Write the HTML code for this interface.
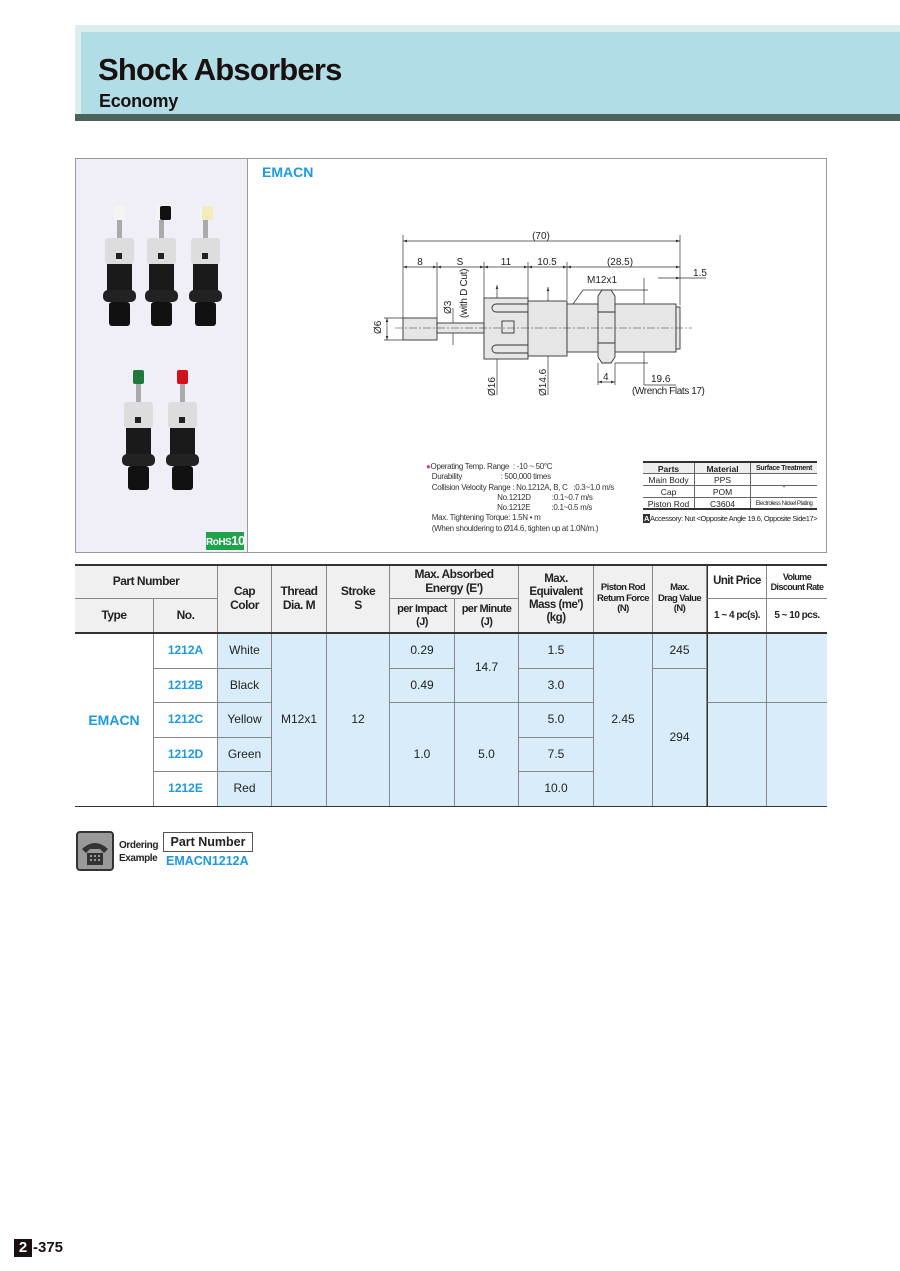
<!DOCTYPE html>
<html><head><meta charset="utf-8"><style>
*{margin:0;padding:0;box-sizing:border-box}
body{width:900px;height:1271px;background:#fff;position:relative;font-family:"Liberation Sans",Arial,sans-serif;color:#222;overflow:hidden}
.a{position:absolute}
.c{position:absolute;display:flex;align-items:center;justify-content:center;text-align:center;font-size:12px;border-right:1px solid #888;border-bottom:1px solid #888;line-height:1.15;white-space:nowrap}
.h{background:#f0f0f0;font-weight:bold;font-size:12px;letter-spacing:-0.5px}
.b{background:#d8edf9}
.w{background:#fff}
.blue{color:#1a9be0;font-weight:bold}
</style></head><body>
<!-- header -->
<div class="a" style="left:75px;top:25px;width:825px;height:96px;background:#dcefef"></div>
<div class="a" style="left:81px;top:32px;width:819px;height:82px;background:#b0dde6"></div>
<div class="a" style="left:75px;top:114px;width:825px;height:7px;background:#4b6358"></div>
<div class="a" style="left:98px;top:52px;font-size:31px;font-weight:bold;color:#1a1010;letter-spacing:-0.8px">Shock Absorbers</div>
<div class="a" style="left:99px;top:91px;font-size:18px;font-weight:bold;color:#1a1010;letter-spacing:-0.3px">Economy</div>

<!-- main panel -->
<div class="a" style="left:75px;top:158px;width:752px;height:395px;border:1px solid #999"></div>
<div class="a" style="left:76px;top:159px;width:172px;height:393px;background:#f0eff7;border-right:1px solid #999"></div>
<div class="a" style="left:206px;top:532px;width:38px;height:18px;background:#1fa34a;color:#fff;font-weight:bold;font-size:10px;text-align:center;line-height:18px;letter-spacing:-0.5px;white-space:nowrap;overflow:hidden">RoHS<span style="font-size:13px">10</span></div>
<svg class="a" style="left:76px;top:159px" width="172" height="393">
 <g id="s">
  <rect x="38" y="47" width="11" height="14" rx="2" fill="#f4f4f0"/>
  <rect x="41" y="61" width="5" height="20" fill="#aaa"/>
  <rect x="29" y="79" width="29" height="26" rx="3" fill="#ddd"/>
  <rect x="40" y="94" width="6" height="6" fill="#222"/>
  <rect x="31" y="105" width="25" height="28" fill="#1a1a1a"/>
  <rect x="27" y="131" width="33" height="12" rx="5" fill="#222"/>
  <rect x="33" y="143" width="21" height="24" rx="3" fill="#111"/>
 </g>
 <use href="#s" x="42"/>
 <use href="#s" x="86"/>
 <use href="#s" x="19" y="164"/>
 <use href="#s" x="63" y="164"/>
 <rect x="84" y="47" width="11" height="14" rx="2" fill="#111"/>
 <rect x="126" y="47" width="11" height="14" rx="2" fill="#f2ecba"/>
 <rect x="57" y="211" width="11" height="14" rx="2" fill="#1e7a3a"/>
 <rect x="101" y="211" width="11" height="14" rx="2" fill="#d0101a"/>
</svg>
<div class="a blue" style="left:262px;top:164px;font-size:14px">EMACN</div>

<!-- drawing -->
<svg class="a" style="left:0;top:0" width="900" height="560" font-family="Liberation Sans,Arial,sans-serif" font-size="10" fill="#222">
 <defs><marker id="ar" markerWidth="6" markerHeight="6" refX="6" refY="3" orient="auto-start-reverse"><path d="M0,1L6,3L0,5z" fill="#333"/></marker></defs>
 <g stroke="#333" stroke-width="0.7" fill="none">
  <line x1="403" y1="235" x2="403" y2="318"/><line x1="680" y1="235" x2="680" y2="305"/>
  <line x1="437" y1="262" x2="437" y2="318"/><line x1="484" y1="262" x2="484" y2="298"/>
  <line x1="528" y1="262" x2="528" y2="298"/><line x1="567" y1="262" x2="567" y2="300"/>
  <line x1="403" y1="241" x2="680" y2="241" marker-start="url(#ar)" marker-end="url(#ar)"/>
  <line x1="403" y1="267" x2="437" y2="267" marker-start="url(#ar)" marker-end="url(#ar)"/>
  <line x1="437" y1="267" x2="484" y2="267" marker-start="url(#ar)" marker-end="url(#ar)"/>
  <line x1="484" y1="267" x2="528" y2="267" marker-start="url(#ar)" marker-end="url(#ar)"/>
  <line x1="528" y1="267" x2="567" y2="267" marker-start="url(#ar)" marker-end="url(#ar)"/>
  <line x1="567" y1="267" x2="680" y2="267" marker-start="url(#ar)" marker-end="url(#ar)"/>
  <line x1="658" y1="278" x2="680" y2="278" marker-end="url(#ar)"/><line x1="680" y1="278" x2="706" y2="278"/>
  <line x1="384" y1="318" x2="403" y2="318"/><line x1="384" y1="340" x2="403" y2="340"/>
  <line x1="387" y1="318" x2="387" y2="340" marker-start="url(#ar)" marker-end="url(#ar)"/>
  <line x1="453" y1="308" x2="453" y2="345"/>
  <line x1="497" y1="285" x2="497" y2="395" marker-start="url(#ar)"/>
  <line x1="548" y1="287" x2="548" y2="395" marker-start="url(#ar)"/>
  <line x1="598" y1="363" x2="598" y2="385"/><line x1="615" y1="363" x2="615" y2="385"/>
  <line x1="598" y1="382" x2="615" y2="382" marker-start="url(#ar)" marker-end="url(#ar)"/>
  <line x1="644" y1="278" x2="644" y2="385"/><line x1="615" y1="290" x2="648" y2="290"/><line x1="615" y1="363" x2="648" y2="363"/>
  <line x1="644" y1="385" x2="676" y2="385"/>
  <line x1="583" y1="290" x2="573" y2="304"/><line x1="583" y1="290" x2="615" y2="290"/>
 </g>
 <g stroke="#333" stroke-width="0.9" fill="#e6e6e6">
  <rect x="403" y="318" width="34" height="22"/>
  <rect x="437" y="323" width="47" height="10"/>
  <rect x="484" y="298" width="44" height="61"/>
  <rect x="528" y="301" width="39" height="55"/>
  <rect x="567" y="304" width="109" height="48"/>
  <rect x="676" y="307" width="4" height="42"/>
  <path d="M598,296 L602,290 L611,290 L615,296 L615,357 L611,363 L602,363 L598,357Z"/>
  <line x1="598" y1="312" x2="615" y2="312"/><line x1="598" y1="343" x2="615" y2="343"/>
  <rect x="502" y="321" width="12" height="12" fill="none"/>
  <path d="M528,304 H496 a3,3 0 0 0 0,8 H528" fill="none"/>
  <path d="M528,345 H496 a3,3 0 0 0 0,8 H528" fill="none"/>
 </g>
 <line x1="395" y1="328" x2="692" y2="328" stroke="#333" stroke-width="0.6" stroke-dasharray="8,2,2,2"/>
 <text x="541" y="239" text-anchor="middle">(70)</text>
 <text x="420" y="265" text-anchor="middle">8</text>
 <text x="460" y="265" text-anchor="middle">S</text>
 <text x="506" y="265" text-anchor="middle">11</text>
 <text x="547" y="265" text-anchor="middle">10.5</text>
 <text x="620" y="265" text-anchor="middle">(28.5)</text>
 <text x="700" y="276" text-anchor="middle">1.5</text>
 <text x="587" y="283">M12x1</text>
 <text x="603" y="380">4</text>
 <text x="651" y="382">19.6</text>
 <text x="632" y="394" letter-spacing="-0.4">(Wrench Flats 17)</text>
 <text transform="translate(381,334) rotate(-90)">Ø6</text>
 <text transform="translate(451,314) rotate(-90)">Ø3</text>
 <text transform="translate(467,318) rotate(-90)" letter-spacing="-0.3">(with D Cut)</text>
 <text transform="translate(495,396) rotate(-90)">Ø16</text>
 <text transform="translate(546,396) rotate(-90)">Ø14.6</text>
</svg>

<!-- notes -->
<div class="a" style="left:426px;top:462px;font-size:8px;line-height:10.3px;color:#333;white-space:pre;letter-spacing:-0.3px"><span style="color:#e0408a">●</span>Operating Temp. Range  : -10 ~ 50°C
   Durability                    : 500,000 times
   Collision Velocity Range : No.1212A, B, C   :0.3~1.0 m/s
                                     No.1212D           :0.1~0.7 m/s
                                     No.1212E           :0.1~0.5 m/s
   Max. Tightening Torque: 1.5N • m
   (When shouldering to Ø14.6, tighten up at 1.0N/m.)</div>
<div class="a" style="left:643px;top:461px;width:174px;font-size:8.5px;color:#222;white-space:nowrap">
 <div style="border-top:2px solid #333;display:flex;background:#eee;font-weight:bold;height:13px;line-height:12px;border-bottom:1px solid #666"><div style="width:52px;text-align:center;border-right:1px solid #666">Parts</div><div style="width:56px;text-align:center;border-right:1px solid #666">Material</div><div style="flex:1;text-align:center;font-size:7px;letter-spacing:-0.3px">Surface Treatment</div></div>
 <div style="display:flex;height:12px;line-height:12px;border-bottom:1px solid #666"><div style="width:52px;text-align:center;border-right:1px solid #666">Main Body</div><div style="width:56px;text-align:center;border-right:1px solid #666">PPS</div><div style="flex:1"></div></div>
 <div style="display:flex;height:12px;line-height:12px;border-bottom:1px solid #666"><div style="width:52px;text-align:center;border-right:1px solid #666">Cap</div><div style="width:56px;text-align:center;border-right:1px solid #666">POM</div><div style="flex:1;text-align:center;margin-top:-6px">-</div></div>
 <div style="display:flex;height:12px;line-height:12px;border-bottom:2px solid #333"><div style="width:52px;text-align:center;border-right:1px solid #666">Piston Rod</div><div style="width:56px;text-align:center;border-right:1px solid #666">C3604</div><div style="flex:1;text-align:center;font-size:6px;letter-spacing:-0.4px;overflow:hidden">Electroless Nickel Plating</div></div>
 <div style="font-size:7.5px;margin-top:4px;white-space:nowrap;letter-spacing:-0.4px"><b style="background:#333;color:#fff;padding:0 1px">A</b>Accessory: Nut &lt;Opposite Angle 19.6, Opposite Side17&gt;</div>
</div>

<!-- spec table -->
<div class="a" style="left:75px;top:564px;width:752px;height:243px;border-top:2px solid #333;border-bottom:2px solid #333"></div>
<div class="c h" style="left:75px;top:566px;width:143px;height:33px">Part Number</div>
<div class="c h" style="left:75px;top:599px;width:79px;height:34px">Type</div>
<div class="c h" style="left:154px;top:599px;width:64px;height:34px">No.</div>
<div class="c h" style="left:218px;top:566px;width:54px;height:67px">Cap<br>Color</div>
<div class="c h" style="left:272px;top:566px;width:55px;height:67px">Thread<br>Dia. M</div>
<div class="c h" style="left:327px;top:566px;width:63px;height:67px">Stroke<br>S</div>
<div class="c h" style="left:390px;top:566px;width:129px;height:33px">Max. Absorbed<br>Energy (E')</div>
<div class="c h" style="left:390px;top:599px;width:65px;height:34px;font-size:11px;letter-spacing:-0.6px">per Impact<br>(J)</div>
<div class="c h" style="left:455px;top:599px;width:64px;height:34px;font-size:11px;letter-spacing:-0.6px">per Minute<br>(J)</div>
<div class="c h" style="left:519px;top:566px;width:75px;height:67px;font-size:11.5px">Max.<br>Equivalent<br>Mass (me')<br>(kg)</div>
<div class="c h" style="left:594px;top:566px;width:59px;height:67px;font-size:9.5px;letter-spacing:-0.6px">Piston Rod<br>Return Force<br>(N)</div>
<div class="c h" style="left:653px;top:566px;width:54px;height:67px;font-size:9.5px;letter-spacing:-0.6px">Max.<br>Drag Value<br>(N)</div>
<div class="c h" style="left:707px;top:566px;width:60px;height:33px;background:#fff;border-left:1px solid #333;font-size:11.5px;letter-spacing:-0.6px">Unit Price</div>
<div class="c h" style="left:767px;top:566px;width:60px;height:33px;background:#fff;font-size:9px;border-right:none;letter-spacing:-0.6px">Volume<br>Discount Rate</div>
<div class="c h" style="left:707px;top:599px;width:60px;height:34px;background:#fff;font-size:10px;border-left:1px solid #333">1 ~ 4 pc(s).</div>
<div class="c h" style="left:767px;top:599px;width:60px;height:34px;background:#fff;font-size:10px;border-right:none">5 ~ 10 pcs.</div>
<div class="a" style="left:75px;top:632px;width:752px;height:2px;background:#333"></div>

<div class="c w blue" style="left:75px;top:634px;width:79px;height:172px;font-size:14px;border-bottom:none">EMACN</div>
<div class="c w blue" style="left:154px;top:634px;width:64px;height:35px">1212A</div>
<div class="c w blue" style="left:154px;top:669px;width:64px;height:34px">1212B</div>
<div class="c w blue" style="left:154px;top:703px;width:64px;height:35px">1212C</div>
<div class="c w blue" style="left:154px;top:738px;width:64px;height:34px">1212D</div>
<div class="c w blue" style="left:154px;top:772px;width:64px;height:34px;border-bottom:none">1212E</div>
<div class="c b" style="left:218px;top:634px;width:54px;height:35px">White</div>
<div class="c b" style="left:218px;top:669px;width:54px;height:34px">Black</div>
<div class="c b" style="left:218px;top:703px;width:54px;height:35px">Yellow</div>
<div class="c b" style="left:218px;top:738px;width:54px;height:34px">Green</div>
<div class="c b" style="left:218px;top:772px;width:54px;height:34px;border-bottom:none">Red</div>
<div class="c b" style="left:272px;top:634px;width:55px;height:172px;border-bottom:none">M12x1</div>
<div class="c b" style="left:327px;top:634px;width:63px;height:172px;border-bottom:none">12</div>
<div class="c b" style="left:390px;top:634px;width:65px;height:35px">0.29</div>
<div class="c b" style="left:390px;top:669px;width:65px;height:34px">0.49</div>
<div class="c b" style="left:390px;top:703px;width:65px;height:103px;border-bottom:none">1.0</div>
<div class="c b" style="left:455px;top:634px;width:64px;height:69px">14.7</div>
<div class="c b" style="left:455px;top:703px;width:64px;height:103px;border-bottom:none">5.0</div>
<div class="c b" style="left:519px;top:634px;width:75px;height:35px">1.5</div>
<div class="c b" style="left:519px;top:669px;width:75px;height:34px">3.0</div>
<div class="c b" style="left:519px;top:703px;width:75px;height:35px">5.0</div>
<div class="c b" style="left:519px;top:738px;width:75px;height:34px">7.5</div>
<div class="c b" style="left:519px;top:772px;width:75px;height:34px;border-bottom:none">10.0</div>
<div class="c b" style="left:594px;top:634px;width:59px;height:172px;border-bottom:none">2.45</div>
<div class="c b" style="left:653px;top:634px;width:54px;height:35px">245</div>
<div class="c b" style="left:653px;top:669px;width:54px;height:137px;border-bottom:none">294</div>
<div class="c b" style="left:707px;top:634px;width:60px;height:69px;border-left:1px solid #333"></div>
<div class="c b" style="left:767px;top:634px;width:60px;height:69px;border-right:none"></div>
<div class="c b" style="left:707px;top:703px;width:60px;height:103px;border-left:1px solid #333;border-bottom:none"></div>
<div class="c b" style="left:767px;top:703px;width:60px;height:103px;border-right:none;border-bottom:none"></div>

<!-- ordering example -->
<div class="a" style="left:76px;top:831px;width:38px;height:40px;border:2px solid #333;border-radius:4px;background:#999"></div>
<svg class="a" style="left:78px;top:833px" width="34" height="36"><path d="M4,16 Q17,4 30,16 L26,20 L22,16 L12,16 L8,20Z" fill="#333"/><rect x="9" y="20" width="16" height="12" fill="#333"/><g fill="#999"><rect x="12" y="22" width="2" height="2"/><rect x="16" y="22" width="2" height="2"/><rect x="20" y="22" width="2" height="2"/><rect x="12" y="26" width="2" height="2"/><rect x="16" y="26" width="2" height="2"/><rect x="20" y="26" width="2" height="2"/></g></svg>
<div class="a" style="left:119px;top:839px;font-size:10px;font-weight:bold;line-height:13px;color:#222;letter-spacing:-0.4px">Ordering<br>Example</div>
<div class="a" style="left:163px;top:832px;width:90px;height:20px;border:1px solid #555;font-size:12.5px;font-weight:bold;text-align:center;line-height:18px">Part Number</div>
<div class="a blue" style="left:166px;top:854px;font-size:12.5px">EMACN1212A</div>

<!-- page number -->
<div class="a" style="left:14px;top:1239px;width:18px;height:18px;background:#1a1010;color:#fff;font-weight:bold;font-size:15px;text-align:center;line-height:18px">2</div>
<div class="a" style="left:33px;top:1239px;font-weight:bold;font-size:15px;line-height:18px;color:#1a1010">-375</div>
</body></html>
